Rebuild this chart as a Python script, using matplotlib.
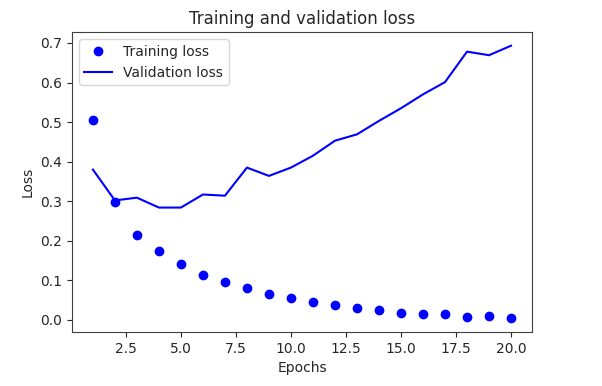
import matplotlib
matplotlib.use("Agg")
import matplotlib.pyplot as plt

epochs = list(range(1, 21))

# training loss per epoch
loss = [0.506, 0.297, 0.215, 0.173, 0.141, 0.114, 0.097, 0.080, 0.066, 0.055,
        0.045, 0.038, 0.031, 0.024, 0.017, 0.014, 0.014, 0.008, 0.011, 0.004]

# validation loss per epoch
val_loss = [0.380, 0.302, 0.309, 0.284, 0.284, 0.317, 0.314, 0.385, 0.364, 0.385,
            0.415, 0.453, 0.469, 0.503, 0.535, 0.570, 0.601, 0.678, 0.669, 0.693]

# slightly softer greys, like the screenshot
plt.rcParams['text.color'] = '#262626'
plt.rcParams['xtick.color'] = '#262626'
plt.rcParams['ytick.color'] = '#262626'
plt.rcParams['axes.labelcolor'] = '#262626'
plt.rcParams['axes.edgecolor'] = '#404040'

fig = plt.figure(figsize=(6.02, 3.86), dpi=100)
ax = fig.add_axes([0.1196, 0.1399, 0.764, 0.777])

ax.plot(epochs, loss, 'bo', label='Training loss')
ax.plot(epochs, val_loss, 'b', label='Validation loss')
ax.set_title('Training and validation loss')
ax.set_xlabel('Epochs')
ax.set_ylabel('Loss')
ax.legend(loc='upper left')

fig.savefig('out.png', dpi=100)
